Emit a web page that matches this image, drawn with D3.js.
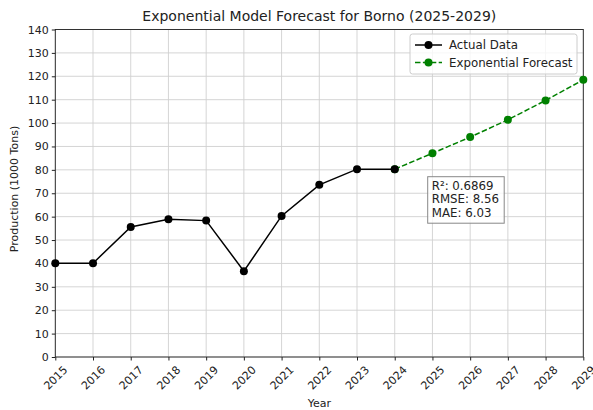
<!DOCTYPE html>
<html>
<head>
<meta charset="utf-8">
<script src="https://cdn.jsdelivr.net/npm/d3@7"></script>
<style>
  body { margin: 0; background: #fff; }
  svg text { font-family: "DejaVu Sans", sans-serif; fill: #222; }
</style>
</head>
<body>
<div id="chart"></div>
<script>
// Data
let actualYears = [2015, 2016, 2017, 2018, 2019, 2020, 2021, 2022, 2023, 2024];
let actualValues = [40.1, 40.1, 55.6, 58.9, 58.3, 36.7, 60.3, 73.6, 80.3, 80.3];
let forecastYears = [2024, 2025, 2026, 2027, 2028, 2029];
let forecastValues = [80.3, 87.1, 94.0, 101.4, 109.7, 118.5];
let yTicks = [0, 10, 20, 30, 40, 50, 60, 70, 80, 90, 100, 110, 120, 130, 140];
let xTicks = d3.range(2015, 2030);
let statLines = ["R²: 0.6869", "RMSE: 8.56", "MAE: 6.03"];

let W = 593, H = 410;
let margin = { top: 29.5, right: 10, bottom: 53, left: 55.3 };
let width = 583.3 - margin.left;
let height = 357 - margin.top;

let svg = d3.select("#chart").append("svg")
    .attr("width", W)
    .attr("height", H);

let g = svg.append("g")
    .attr("transform", `translate(${margin.left}, ${margin.top})`);

let x = d3.scaleLinear().domain([2015, 2029]).range([0, width]);
let y = d3.scaleLinear().domain([0, 140]).range([height, 0]);

// grid
g.append("g").selectAll("line").data(xTicks).join("line")
    .attr("x1", d => x(d)).attr("x2", d => x(d))
    .attr("y1", 0).attr("y2", height)
    .attr("stroke", "#d0d0d0").attr("stroke-width", 0.9);
g.append("g").selectAll("line").data(yTicks).join("line")
    .attr("y1", d => y(d)).attr("y2", d => y(d))
    .attr("x1", 0).attr("x2", width)
    .attr("stroke", "#d0d0d0").attr("stroke-width", 0.9);

// axes
let xAxis = g.append("g")
    .attr("transform", `translate(0, ${height})`)
    .call(d3.axisBottom(x).tickValues(xTicks).tickFormat(d3.format("d")).tickSize(3.5).tickPadding(3));
xAxis.select(".domain").remove();
// matplotlib style: rotated 45 degrees, centred under the tick
xAxis.selectAll("text")
    .style("font-size", "11px")
    .attr("text-anchor", "middle")
    .attr("dominant-baseline", "central")
    .attr("y", 0)
    .attr("dy", null)
    .attr("transform", "translate(0, 21) rotate(-45)");

let yAxis = g.append("g")
    .call(d3.axisLeft(y).tickValues(yTicks).tickSize(3.5).tickPadding(3));
yAxis.select(".domain").remove();
yAxis.selectAll("text").style("font-size", "11px");
g.selectAll(".tick line").attr("stroke", "#222");

// frame
g.append("rect")
    .attr("width", width).attr("height", height)
    .attr("fill", "none").attr("stroke", "#222").attr("stroke-width", 0.9);

// lines
let line = d3.line().x(d => x(d[0])).y(d => y(d[1]));
let actual = actualYears.map((d, i) => [d, actualValues[i]]);
let forecast = forecastYears.map((d, i) => [d, forecastValues[i]]);

g.append("path").datum(forecast)
    .attr("fill", "none").attr("stroke", "#008000")
    .attr("stroke-width", 1.5).attr("stroke-dasharray", "5.5,2.4")
    .attr("d", line);
g.append("g").selectAll("circle").data(forecast).join("circle")
    .attr("cx", d => x(d[0])).attr("cy", d => y(d[1])).attr("r", 4)
    .attr("fill", "#008000");

g.append("path").datum(actual)
    .attr("fill", "none").attr("stroke", "#000")
    .attr("stroke-width", 1.5)
    .attr("d", line);
g.append("g").selectAll("circle").data(actual).join("circle")
    .attr("cx", d => x(d[0])).attr("cy", d => y(d[1])).attr("r", 4)
    .attr("fill", "#000");

// stats box
let sb = svg.append("g").attr("transform", "translate(427.7, 176.7)");
sb.append("rect").attr("width", 76.5).attr("height", 46.5)
    .attr("fill", "#fff").attr("fill-opacity", 0.8)
    .attr("stroke", "#888").attr("stroke-width", 1);
sb.selectAll("text").data(statLines).join("text")
    .attr("x", 4).attr("y", (d, i) => 13.5 + i * 13.2)
    .style("font-size", "11.8px")
    .text(d => d);

// legend
let lg = svg.append("g").attr("transform", "translate(410, 34)");
lg.append("rect").attr("width", 167).attr("height", 40).attr("rx", 2.5)
    .attr("fill", "#fff").attr("fill-opacity", 0.8)
    .attr("stroke", "#ccc").attr("stroke-width", 1);
let items = [
    { label: "Actual Data", color: "#000", dash: null },
    { label: "Exponential Forecast", color: "#008000", dash: "5.5,2.4" },
];
items.forEach((it, i) => {
    let yy = 11 + i * 17.5;
    lg.append("line").attr("x1", 5).attr("x2", 32).attr("y1", yy).attr("y2", yy)
        .attr("stroke", it.color).attr("stroke-width", 1.5)
        .attr("stroke-dasharray", it.dash);
    lg.append("circle").attr("cx", 18.5).attr("cy", yy).attr("r", 4).attr("fill", it.color);
    lg.append("text").attr("x", 39).attr("y", yy + 4.2)
        .style("font-size", "11.8px").text(it.label);
});

// title and axis labels
svg.append("text")
    .attr("x", margin.left + width / 2).attr("y", 21)
    .attr("text-anchor", "middle")
    .style("font-size", "14px")
    .text("Exponential Model Forecast for Borno (2025-2029)");

svg.append("text")
    .attr("x", margin.left + width / 2).attr("y", 407)
    .attr("text-anchor", "middle")
    .style("font-size", "11px")
    .text("Year");

svg.append("text")
    .attr("transform", `translate(18, 189) rotate(-90)`)
    .attr("text-anchor", "middle")
    .style("font-size", "11px")
    .text("Production (1000 Tons)");
</script>
</body>
</html>
